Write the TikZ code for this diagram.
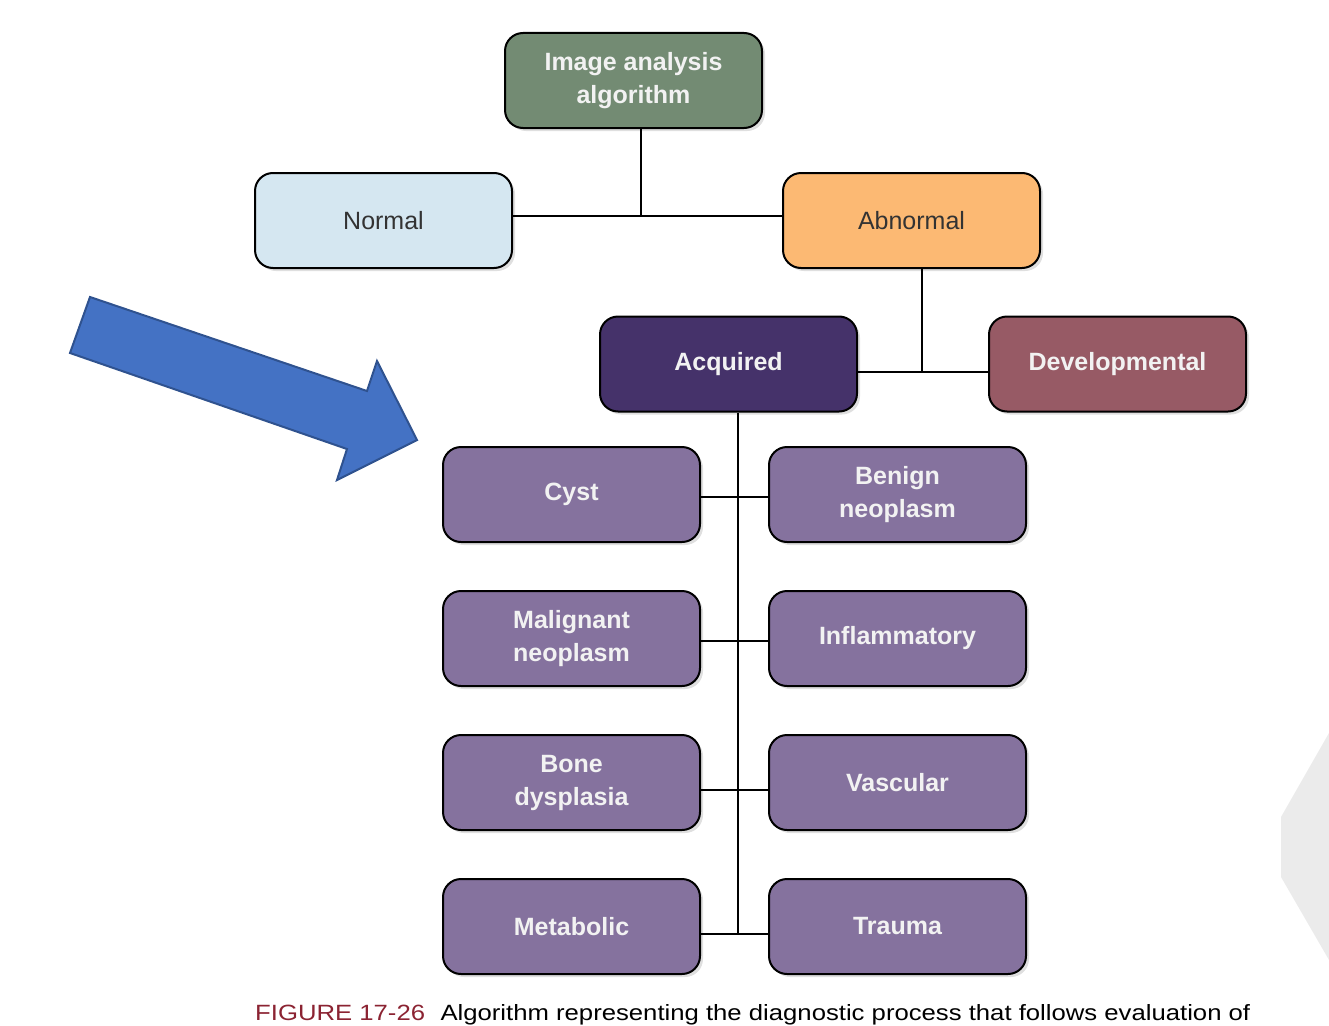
\documentclass[tikz,border=0pt]{standalone}
\usepackage{fontspec}
\setmainfont{Liberation Sans}
\usetikzlibrary{shadows}
\definecolor{imggreen}{HTML}{738B73}
\definecolor{normblue}{HTML}{D5E7F1}
\definecolor{abnorange}{HTML}{FCB973}
\definecolor{acqpurple}{HTML}{45326A}
\definecolor{devred}{HTML}{975A65}
\definecolor{subpurple}{HTML}{85729E}
\definecolor{arrowblue}{HTML}{4472C4}
\definecolor{arrowedge}{HTML}{2F528F}
\definecolor{figred}{HTML}{8B2332}
\definecolor{lightgray}{HTML}{EBEBEB}
\definecolor{darktext}{HTML}{333333}
\tikzset{
  box/.style={draw=black, line width=2pt, rounded corners=18pt,
    minimum width=257pt, minimum height=95pt, align=center, inner sep=0pt,
    font=\fontsize{25}{33}\selectfont\bfseries, text=white!95!black,
    drop shadow={opacity=0.25, shadow xshift=3pt, shadow yshift=-3pt}},
  lightbox/.style={box, font=\fontsize{25}{33}\selectfont, text=darktext},
  conn/.style={line width=2pt, black}
}
\begin{document}
\begin{tikzpicture}[x=1pt,y=-1pt]
\useasboundingbox (0,0) rectangle (1329,1025);
% background decorations
\fill[lightgray] (1329,733) -- (1281,817) -- (1281,877) -- (1329,960) -- cycle;
\filldraw[fill=arrowblue, draw=arrowedge, line width=2pt, line join=miter]
  (90,297) -- (367,391) -- (377,361) -- (417,440) -- (337,480) -- (347,449) -- (70,353) -- cycle;
% nodes
\node[box, fill=imggreen] (img) at (633.5,80.5) {Image analysis\\algorithm};
\node[lightbox, fill=normblue] (normal) at (383.5,220.5) {Normal};
\node[lightbox, fill=abnorange] (abn) at (911.5,220.5) {Abnormal};
\node[box, fill=acqpurple] (acq) at (728.5,364) {\raisebox{-3pt}{Acquired}};
\node[box, fill=devred] (dev) at (1117.5,364) {Developmental};
\node[box, fill=subpurple] (cyst) at (571.5,494.5) {\raisebox{-3pt}{Cyst}};
\node[box, fill=subpurple] (benign) at (897.5,494.5) {Benign\\neoplasm};
\node[box, fill=subpurple] (malig) at (571.5,638.5) {Malignant\\neoplasm};
\node[box, fill=subpurple] (infl) at (897.5,638.5) {Inflammatory};
\node[box, fill=subpurple] (bone) at (571.5,782.5) {Bone\\dysplasia};
\node[box, fill=subpurple] (vasc) at (897.5,782.5) {Vascular};
\node[box, fill=subpurple] (meta) at (571.5,926.5) {Metabolic};
\node[box, fill=subpurple] (trauma) at (897.5,926.5) {Trauma};
% junctions
\coordinate (j1) at (641,216);
\coordinate (j2) at (922,372);
\coordinate (r1) at (738,497);
\coordinate (r2) at (738,641);
\coordinate (r3) at (738,790);
\coordinate (r4) at (738,934);
% connectors
\draw[conn] (img.south -| j1) -- (j1);
\draw[conn] (normal.east |- j1) -- (abn.west |- j1);
\draw[conn] (abn.south -| j2) -- (j2);
\draw[conn] (acq.east |- j2) -- (dev.west |- j2);
\draw[conn] (acq.south -| r1) -- (r4);
\draw[conn] (cyst.east |- r1) -- (benign.west |- r1);
\draw[conn] (malig.east |- r2) -- (infl.west |- r2);
\draw[conn] (bone.east |- r3) -- (vasc.west |- r3);
\draw[conn] (meta.east |- r4) -- (trauma.west |- r4);
% caption
\node[anchor=base west, inner sep=0pt] (caption) at (255,1020)
  {\resizebox{995pt}{16pt}{\fontsize{30}{30}\selectfont\textcolor{figred}{FIGURE 17-26}\hspace{0.6em}Algorithm representing the diagnostic process that follows evaluation of}};
\end{tikzpicture}
\end{document}
